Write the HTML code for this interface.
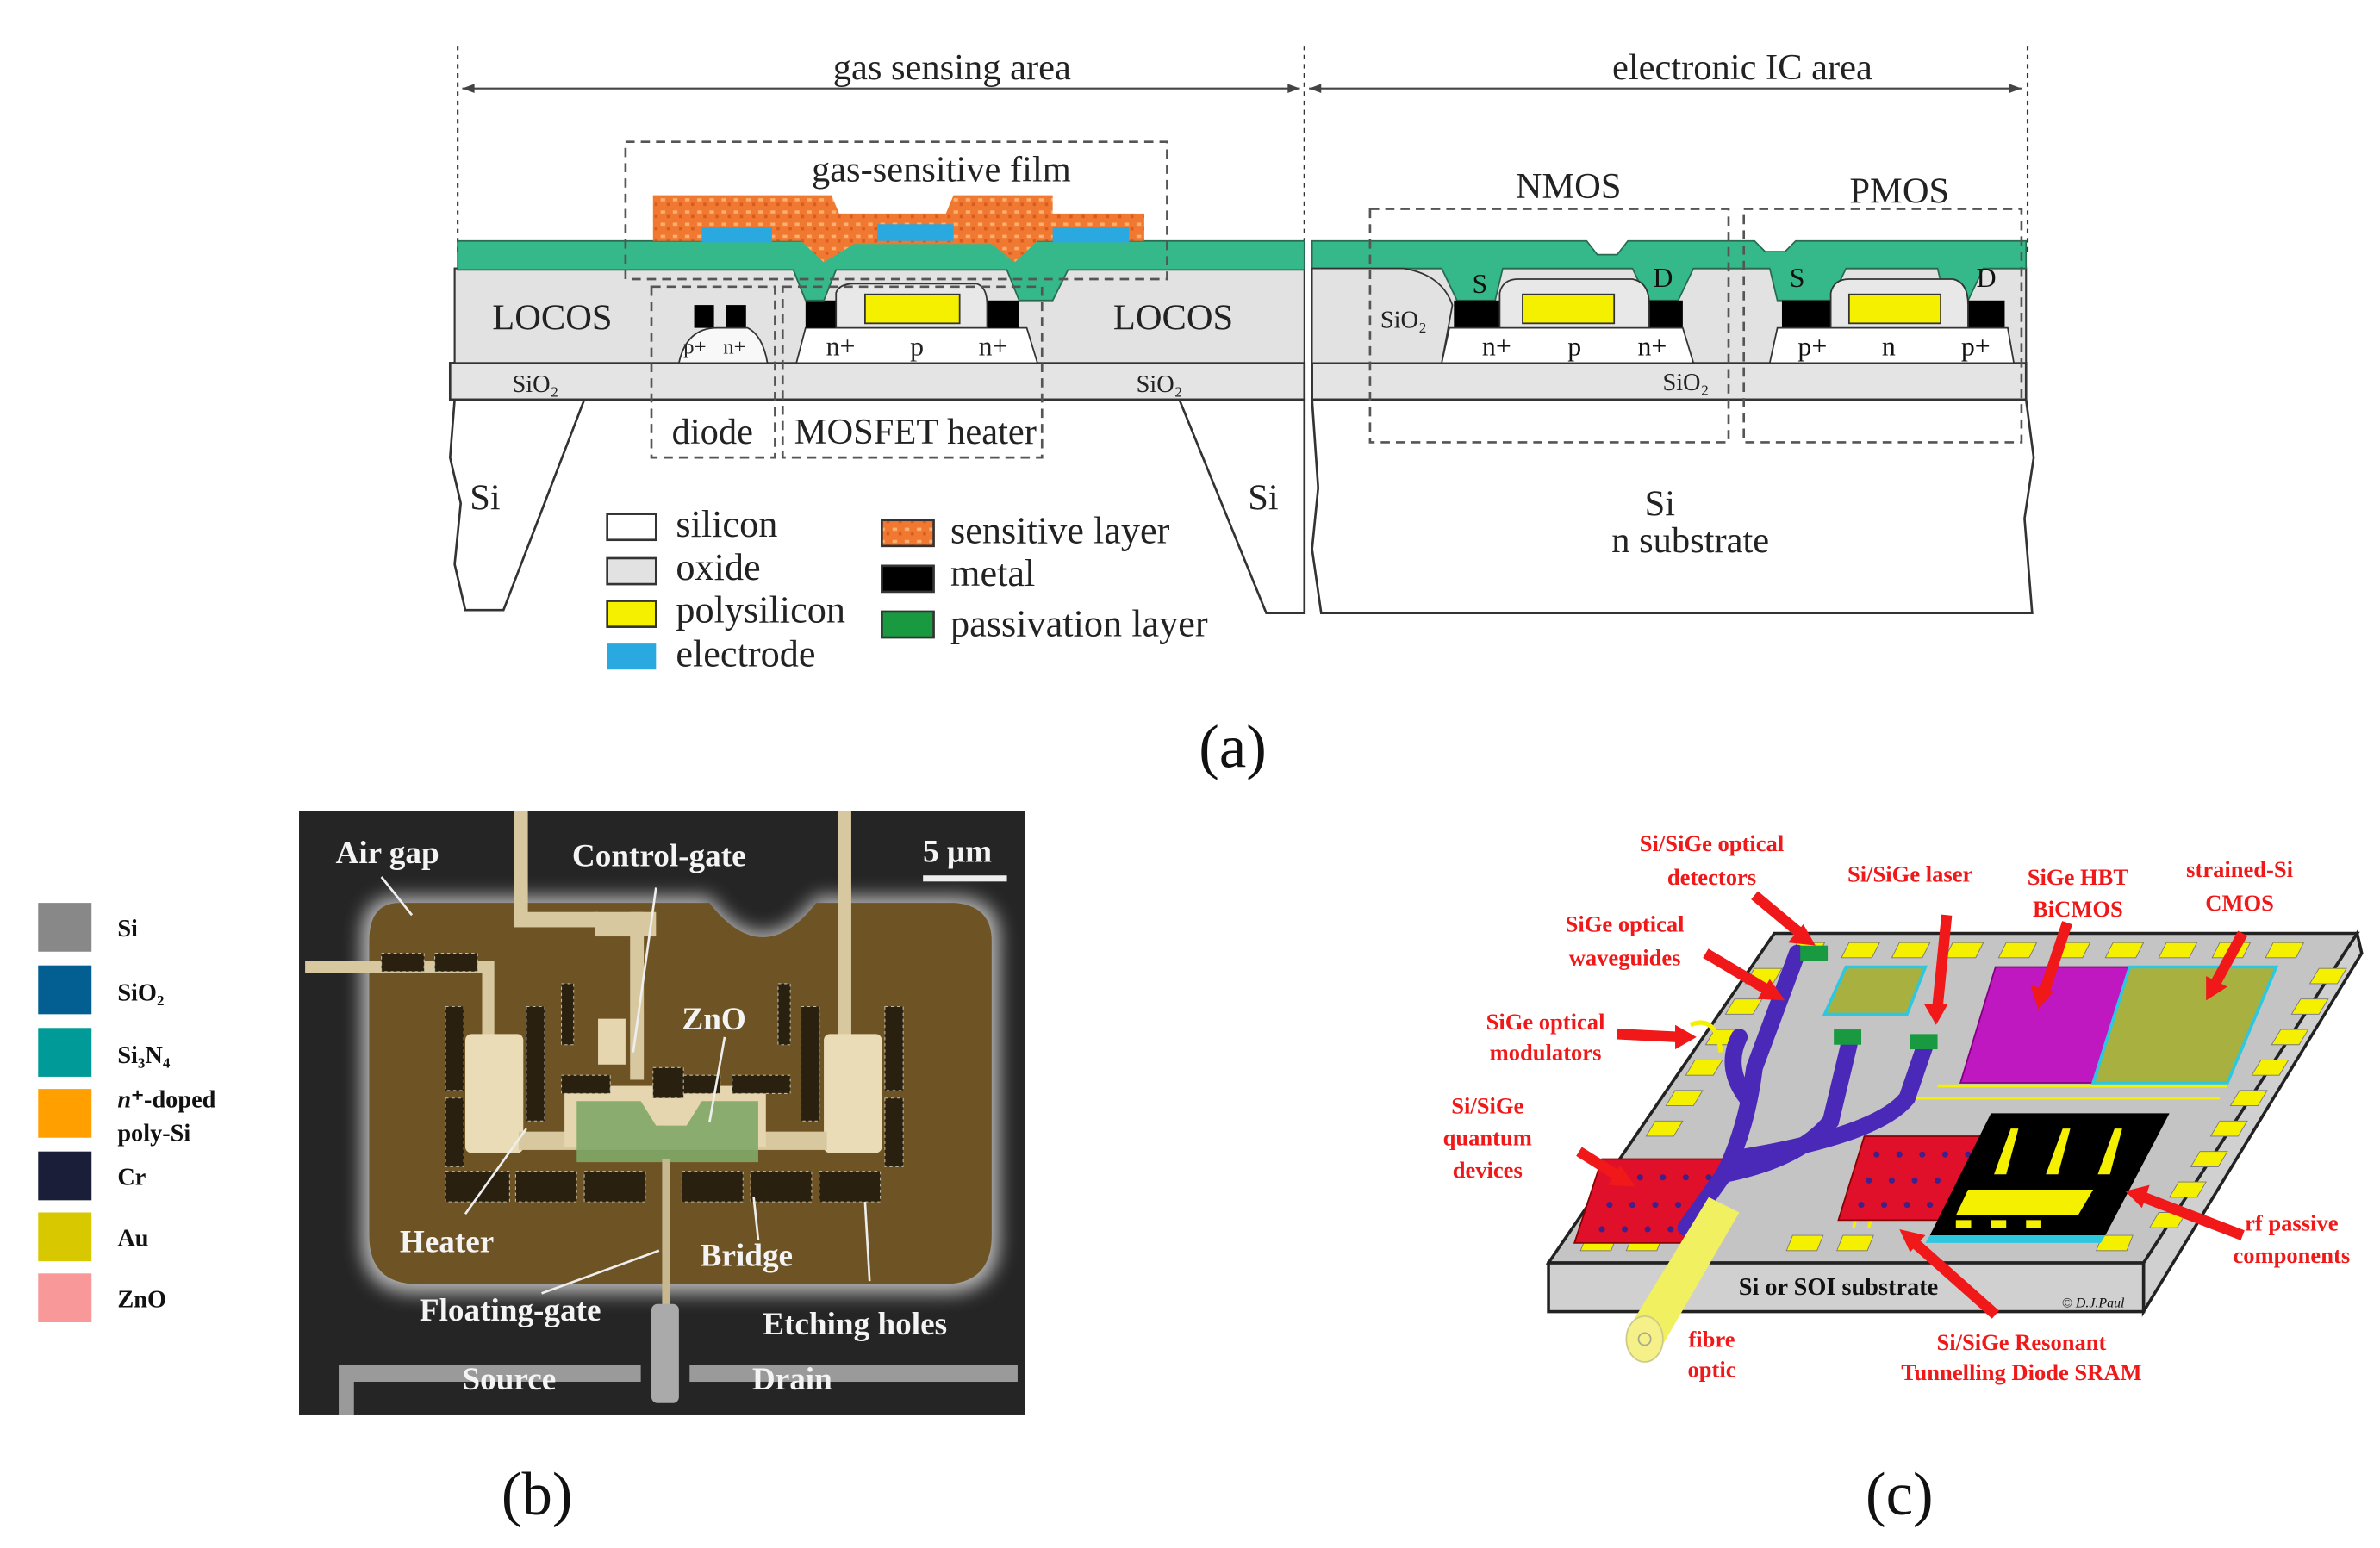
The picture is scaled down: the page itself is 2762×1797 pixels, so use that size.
<!DOCTYPE html>
<html><head><meta charset="utf-8"><style>
html,body{margin:0;padding:0;background:#fff;}
svg{display:block;}
text{font-family:"Liberation Serif",serif;}
</style></head><body>
<svg width="2762" height="1797" viewBox="0 0 1560 1015" preserveAspectRatio="none" xmlns="http://www.w3.org/2000/svg">
<defs>
<pattern id="sens" width="8" height="8" patternUnits="userSpaceOnUse">
<rect width="8" height="8" fill="#f07830"/><rect x="1" y="2" width="3" height="2" fill="#fbb070"/><rect x="5" y="5" width="2" height="2" fill="#d85a20"/>
</pattern>
<filter id="glow" x="-20%" y="-20%" width="140%" height="140%"><feGaussianBlur stdDeviation="6"/></filter>
</defs>
<rect width="1560" height="1015" fill="#fff"/>

<!-- ===== Panel (a) ===== -->
<g stroke="#333" stroke-width="1.2" stroke-dasharray="3,3" fill="none">
<line x1="300" y1="30" x2="300" y2="165"/><line x1="855" y1="30" x2="855" y2="165"/><line x1="1329" y1="30" x2="1329" y2="165"/>
</g>
<g stroke="#444" stroke-width="1.2">
<line x1="303" y1="58" x2="852" y2="58"/><line x1="858" y1="58" x2="1325" y2="58"/>
</g>
<g fill="#444"><path d="M303,58 l8,-3 v6z"/><path d="M852,58 l-8,-3 v6z"/><path d="M858,58 l8,-3 v6z"/><path d="M1325,58 l-8,-3 v6z"/></g>
<g font-size="24" fill="#222" text-anchor="middle">
<text x="624" y="52">gas sensing area</text>
<text x="1142" y="52">electronic IC area</text>
</g>

<!-- substrate left -->
<path d="M298,262 L383,262 L330,400 L305,400 L298,370 L302,330 L295,300 Z" fill="#fff" stroke="#333" stroke-width="1.5"/>
<path d="M773,262 L855,262 L855,402 L830,402 Z" fill="#fff" stroke="#333" stroke-width="1.5"/>
<path d="M860,262 L1328,262 L1333,300 L1327,340 L1332,402 L866,402 L860,360 L864,320 Z" fill="#fff" stroke="#333" stroke-width="1.5"/>
<!-- SiO2 band -->
<rect x="295" y="238" width="560" height="24" fill="#e4e4e4" stroke="#333" stroke-width="1.5"/>
<rect x="860" y="238" width="468" height="24" fill="#e4e4e4" stroke="#333" stroke-width="1.5"/>
<!-- oxide -->
<rect x="298" y="176" width="557" height="62" fill="#e2e2e2" stroke="#333" stroke-width="1.2"/>
<rect x="860" y="176" width="468" height="62" fill="#e2e2e2" stroke="#333" stroke-width="1.2"/>
<!-- MOSFET heater silicon -->
<path d="M528,215 L673,215 L680,238 L522,238 Z" fill="#fff" stroke="#333"/>
<rect x="528" y="197" width="20" height="18" fill="#000"/><rect x="647" y="197" width="21" height="18" fill="#000"/>
<path d="M548,215 L548,192 Q550,186 560,186 L640,186 Q647,188 647,200 L647,215Z" fill="#e8e8e8" stroke="#333"/>
<rect x="567" y="193" width="62" height="19" fill="#f5f000" stroke="#333"/>
<!-- green passivation left -->
<path d="M300,158 L855,158 L855,177 L700,177 L690,197 L668,197 L660,177 L640,177 L548,177 L540,197 L528,197 L520,177 L300,177Z" fill="#35b88a" stroke="#2a6a50"/>
<!-- sensitive layer -->
<path d="M428,128 L545,128 L550,140 L620,140 L625,128 L690,128 L690,140 L750,140 L750,158 L680,158 L665,172 L650,160 L560,160 L540,172 L525,158 L428,158Z" fill="url(#sens)"/>
<rect x="460" y="149" width="46" height="10" fill="#2aa8e0"/><rect x="575" y="147" width="50" height="11" fill="#2aa8e0"/><rect x="690" y="149" width="50" height="10" fill="#2aa8e0"/>
<!-- diode -->
<rect x="455" y="200" width="13" height="15" fill="#000"/><rect x="476" y="200" width="13" height="15" fill="#000"/>
<path d="M445,238 Q450,215 470,215 L490,215 Q500,220 503,238 Z" fill="#f8f8f8" stroke="#333"/>
<g font-size="14" fill="#222"><text x="448" y="232">p+</text><text x="474" y="232">n+</text></g>
<g font-size="18" fill="#222" text-anchor="middle"><text x="551" y="233">n+</text><text x="601" y="233">p</text><text x="651" y="233">n+</text></g>
<!-- dashed boxes -->
<g fill="none" stroke="#555" stroke-width="1.5" stroke-dasharray="6,4">
<rect x="410" y="93" width="355" height="90"/>
<rect x="427" y="188" width="81" height="112"/>
<rect x="513" y="188" width="170" height="112"/>
</g>
<g font-size="24" fill="#222" text-anchor="middle">
<text x="617" y="119">gas-sensitive film</text>
<text x="362" y="216">LOCOS</text><text x="769" y="216">LOCOS</text>
<text x="467" y="291">diode</text><text x="600" y="291">MOSFET heater</text>
<text x="318" y="334">Si</text><text x="828" y="334">Si</text>
</g>
<g font-size="16" fill="#222" text-anchor="middle"><text x="351" y="257">SiO₂</text><text x="760" y="257">SiO₂</text></g>

<!-- right IC -->
<path d="M860,158 L1040,158 L1047,167 L1060,167 L1067,158 L1150,158 L1157,165 L1170,165 L1177,158 L1328,158 L1328,176 L1300,176 L1290,197 L1275,197 L1270,176 L1210,176 L1200,197 L1165,197 L1160,176 L1110,176 L1100,197 L1080,197 L1070,176 L985,176 L980,197 L955,197 L945,176 L860,176Z" fill="#35b88a" stroke="#2a6a50"/>
<path d="M860,176 L920,176 Q945,180 952,200 L945,238 L860,238Z" fill="#e2e2e2" stroke="#333"/>
<rect x="953" y="197" width="30" height="18" fill="#000"/><rect x="1081" y="197" width="22" height="18" fill="#000"/>
<rect x="1168" y="197" width="32" height="18" fill="#000"/><rect x="1290" y="197" width="24" height="18" fill="#000"/>
<path d="M950,215 L1103,215 L1110,238 L945,238Z" fill="#fff" stroke="#333"/>
<path d="M1165,215 L1316,215 L1320,238 L1160,238Z" fill="#fff" stroke="#333"/>
<path d="M983,215 L983,192 Q985,183 995,183 L1070,183 Q1081,185 1081,200 L1081,215Z" fill="#e8e8e8" stroke="#333"/>
<path d="M1200,215 L1200,192 Q1202,183 1212,183 L1280,183 Q1290,185 1290,200 L1290,215Z" fill="#e8e8e8" stroke="#333"/>
<rect x="998" y="193" width="60" height="19" fill="#f5f000" stroke="#333"/>
<rect x="1212" y="193" width="60" height="19" fill="#f5f000" stroke="#333"/>
<g fill="none" stroke="#555" stroke-width="1.5" stroke-dasharray="6,4">
<rect x="898" y="137" width="235" height="153"/><rect x="1143" y="137" width="182" height="153"/>
</g>
<g font-size="24" fill="#222" text-anchor="middle">
<text x="1028" y="130">NMOS</text><text x="1245" y="133">PMOS</text>
<text x="1088" y="338">Si</text><text x="1108" y="362">n substrate</text>
</g>
<g font-size="18" fill="#111" text-anchor="middle">
<text x="970" y="192">S</text><text x="1090" y="188">D</text><text x="1178" y="188">S</text><text x="1302" y="188">D</text>
<text x="981" y="233">n+</text><text x="1032" y="233">p</text><text x="1083" y="233">n+</text>
<text x="1188" y="233">p+</text><text x="1238" y="233">n</text><text x="1295" y="233">p+</text>
</g>
<g font-size="16" fill="#222" text-anchor="middle"><text x="920" y="215">SiO₂</text><text x="1105" y="256">SiO₂</text></g>

<!-- legend a -->
<g stroke="#333" stroke-width="1.5">
<rect x="398" y="337" width="32" height="17" fill="#fff"/>
<rect x="398" y="366" width="32" height="17" fill="#e2e2e2"/>
<rect x="398" y="394" width="32" height="17" fill="#f5f000"/>
<rect x="398" y="422" width="32" height="17" fill="#2aa8e0" stroke="none"/>
<rect x="578" y="341" width="34" height="17" fill="url(#sens)"/>
<rect x="578" y="371" width="34" height="17" fill="#000"/>
<rect x="578" y="401" width="34" height="17" fill="#1a9a40"/>
</g>
<g font-size="25" fill="#222">
<text x="443" y="352">silicon</text><text x="443" y="380">oxide</text><text x="443" y="408">polysilicon</text><text x="443" y="437">electrode</text>
<text x="623" y="356">sensitive layer</text><text x="623" y="384">metal</text><text x="623" y="417">passivation layer</text>
</g>
<text x="808" y="503" font-size="40" text-anchor="middle" fill="#111">(a)</text>

<!-- ===== Panel (b) ===== -->
<g>
<rect x="25" y="592" width="35" height="32" fill="#888"/><rect x="25" y="633" width="35" height="32" fill="#035e92"/>
<rect x="25" y="674" width="35" height="32" fill="#009b98"/><rect x="25" y="714" width="35" height="32" fill="#ffa000"/>
<rect x="25" y="755" width="35" height="32" fill="#1a1e38"/><rect x="25" y="795" width="35" height="32" fill="#d8c800"/>
<rect x="25" y="835" width="35" height="32" fill="#f89898"/>
</g>
<g font-size="16" font-weight="bold" fill="#111">
<text x="77" y="614">Si</text><text x="77" y="656">SiO₂</text><text x="77" y="697">Si₃N₄</text>
<text x="77" y="726"><tspan font-style="italic">n</tspan>⁺-doped</text><text x="77" y="748">poly-Si</text>
<text x="77" y="777">Cr</text><text x="77" y="817">Au</text><text x="77" y="857">ZnO</text>
</g>
<rect x="196" y="532" width="476" height="396" fill="#252525"/>
<path d="M260,588 L465,588 Q500,635 535,588 L628,588 Q655,590 655,615 L655,812 Q655,848 620,848 L272,848 Q237,848 237,812 L237,615 Q237,588 260,588Z" fill="#ddd" filter="url(#glow)" opacity="0.8"/>
<path d="M262,592 L465,592 Q500,637 535,592 L626,592 Q650,594 650,617 L650,810 Q650,842 618,842 L274,842 Q242,842 242,810 L242,617 Q242,592 262,592Z" fill="#6e5424"/>
<!-- tracks -->
<g fill="#d8c8a0">
<rect x="337" y="532" width="9" height="70"/><rect x="337" y="598" width="55" height="10"/>
<rect x="390" y="598" width="40" height="16"/><rect x="413" y="598" width="9" height="110"/>
<rect x="549" y="532" width="9" height="150"/>
<rect x="200" y="630" width="120" height="8"/><rect x="316" y="630" width="8" height="50"/>
<rect x="305" y="678" width="38" height="78" rx="4" fill="#ebdcb8"/>
<rect x="540" y="678" width="38" height="78" rx="4" fill="#ebdcb8"/>
<rect x="340" y="742" width="202" height="12"/>
<rect x="370" y="712" width="132" height="40" fill="#e6d6b0"/>
<rect x="392" y="668" width="18" height="30" fill="#e6d6b0"/>
</g>
<path d="M378,722 L420,722 L430,738 L450,738 L460,722 L497,722 L497,762 L378,762Z" fill="#7fa868" opacity="0.9"/>
<rect x="434" y="760" width="5" height="120" fill="#c8b890"/>
<rect x="427" y="855" width="18" height="65" rx="4" fill="#aaa"/>
<!-- etching holes -->
<g fill="#2a2010" stroke="#bba" stroke-width="0.6" stroke-dasharray="2,2">
<rect x="292" y="768" width="42" height="20"/><rect x="338" y="768" width="40" height="20"/><rect x="383" y="768" width="40" height="20"/>
<rect x="447" y="768" width="40" height="20"/><rect x="492" y="768" width="40" height="20"/><rect x="537" y="768" width="40" height="20"/>
<rect x="292" y="720" width="12" height="45"/><rect x="580" y="720" width="12" height="45"/>
<rect x="292" y="660" width="12" height="55"/><rect x="580" y="660" width="12" height="55"/>
<rect x="345" y="660" width="12" height="75"/><rect x="525" y="660" width="12" height="75"/>
<rect x="368" y="705" width="32" height="12"/><rect x="440" y="705" width="32" height="12"/><rect x="480" y="705" width="38" height="12"/>
<rect x="368" y="645" width="8" height="40"/><rect x="510" y="645" width="8" height="40"/>
<rect x="250" y="625" width="28" height="12"/><rect x="285" y="625" width="28" height="12"/>
<rect x="428" y="700" width="20" height="20"/>
</g>
<!-- source/drain -->
<path d="M222,928 L222,895 L420,895 L420,906 L232,906 L232,928Z" fill="#9a9a9a"/>
<rect x="452" y="895" width="215" height="11" fill="#9a9a9a"/>
<rect x="605" y="574" width="55" height="4" fill="#eee"/>
<g stroke="#eee" stroke-width="1.5">
<line x1="250" y1="575" x2="270" y2="600"/><line x1="430" y1="582" x2="415" y2="690"/>
<line x1="475" y1="680" x2="465" y2="736"/><line x1="305" y1="796" x2="345" y2="740"/>
<line x1="355" y1="848" x2="432" y2="820"/><line x1="497" y1="813" x2="494" y2="785"/>
<line x1="570" y1="840" x2="567" y2="788"/>
</g>
<g font-size="21" font-weight="bold" fill="#f4f4f4">
<text x="220" y="566">Air gap</text><text x="375" y="568">Control-gate</text><text x="605" y="565">5 μm</text>
<text x="447" y="675">ZnO</text><text x="262" y="821">Heater</text><text x="459" y="830">Bridge</text>
<text x="275" y="866">Floating-gate</text><text x="500" y="875">Etching holes</text>
<text x="303" y="911">Source</text><text x="493" y="911">Drain</text>
</g>
<text x="352" y="993" font-size="40" text-anchor="middle" fill="#111">(b)</text>

<!-- ===== Panel (c) ===== -->
<path d="M1405,828 L1545,612 L1548,625 L1405,860Z" fill="#d0d0d0" stroke="#222" stroke-width="2"/>
<rect x="1015" y="828" width="390" height="32" fill="#d0d0d0" stroke="#222" stroke-width="2"/>
<path d="M1163,612 L1545,612 L1405,828 L1015,828Z" fill="#c4c4c4" stroke="#222" stroke-width="2"/>
<!-- pads -->
<g fill="#f5f000" stroke="#777" stroke-width="0.5">
<path d="M1178,618 h18 l-5,10 h-18z"/><path d="M1212,618 h20 l-5,10 h-20z"/><path d="M1245,618 h20 l-5,10 h-20z"/><path d="M1280,618 h20 l-5,10 h-20z"/><path d="M1315,618 h20 l-5,10 h-20z"/><path d="M1350,618 h20 l-5,10 h-20z"/><path d="M1385,618 h20 l-5,10 h-20z"/><path d="M1420,618 h20 l-5,10 h-20z"/><path d="M1455,618 h20 l-5,10 h-20z"/><path d="M1490,618 h20 l-5,10 h-20z"/>
<path d="M1520,635 h18 l-6,10 h-18z"/><path d="M1508,655 h18 l-6,10 h-18z"/><path d="M1495,675 h18 l-6,10 h-18z"/><path d="M1482,695 h18 l-6,10 h-18z"/><path d="M1468,715 h18 l-6,10 h-18z"/><path d="M1455,735 h18 l-6,10 h-18z"/><path d="M1442,755 h18 l-6,10 h-18z"/><path d="M1428,775 h18 l-6,10 h-18z"/><path d="M1415,795 h18 l-6,10 h-18z"/>
<path d="M1150,635 h18 l-6,10 h-18z"/><path d="M1137,655 h18 l-6,10 h-18z"/><path d="M1124,675 h18 l-6,10 h-18z"/><path d="M1111,695 h18 l-6,10 h-18z"/><path d="M1098,715 h18 l-6,10 h-18z"/><path d="M1085,735 h18 l-6,10 h-18z"/>
<path d="M1040,810 h20 l-4,10 h-20z"/><path d="M1070,810 h20 l-4,10 h-20z"/><path d="M1175,810 h20 l-4,10 h-20z"/><path d="M1208,810 h20 l-4,10 h-20z"/><path d="M1378,810 h20 l-4,10 h-20z"/>
</g>
<g stroke="#f5f000" stroke-width="2"><line x1="1250" y1="720" x2="1455" y2="720"/><line x1="1270" y1="712" x2="1460" y2="712"/><line x1="1215" y1="805" x2="1228" y2="745"/><line x1="1225" y1="805" x2="1238" y2="745"/></g>
<!-- blocks -->
<path d="M1308,634 L1396,634 L1372,710 L1285,710Z" fill="#c018c0" stroke="#800080"/>
<path d="M1396,634 L1492,634 L1460,710 L1372,710Z" fill="#a8b040" stroke="#2cc8e0" stroke-width="2"/>
<path d="M1210,634 L1262,634 L1250,665 L1196,665Z" fill="#a8b040" stroke="#2cc8e0" stroke-width="2"/>
<path d="M1050,760 L1132,760 L1115,815 L1032,815Z" fill="#e0102a" stroke="#800"/>
<path d="M1222,745 L1300,745 L1285,800 L1205,800Z" fill="#e0102a" stroke="#800"/>
<g fill="#40208a"><circle cx="1060" cy="772" r="2"/><circle cx="1075" cy="772" r="2"/><circle cx="1090" cy="772" r="2"/><circle cx="1105" cy="772" r="2"/><circle cx="1120" cy="772" r="2"/><circle cx="1055" cy="790" r="2"/><circle cx="1070" cy="790" r="2"/><circle cx="1085" cy="790" r="2"/><circle cx="1100" cy="790" r="2"/><circle cx="1115" cy="790" r="2"/><circle cx="1050" cy="806" r="2"/><circle cx="1065" cy="806" r="2"/><circle cx="1080" cy="806" r="2"/><circle cx="1095" cy="806" r="2"/><circle cx="1108" cy="806" r="2"/>
<circle cx="1230" cy="757" r="2"/><circle cx="1245" cy="757" r="2"/><circle cx="1260" cy="757" r="2"/><circle cx="1275" cy="757" r="2"/><circle cx="1290" cy="757" r="2"/><circle cx="1225" cy="774" r="2"/><circle cx="1240" cy="774" r="2"/><circle cx="1255" cy="774" r="2"/><circle cx="1270" cy="774" r="2"/><circle cx="1285" cy="774" r="2"/><circle cx="1220" cy="790" r="2"/><circle cx="1235" cy="790" r="2"/><circle cx="1250" cy="790" r="2"/><circle cx="1265" cy="790" r="2"/><circle cx="1278" cy="790" r="2"/></g>
<path d="M1305,730 L1422,730 L1380,810 L1265,810Z" fill="#000"/>
<path d="M1265,810 L1380,810 L1377,815 L1262,815Z" fill="#2cc8e0"/>
<g fill="#f5f000"><path d="M1290,780 L1372,780 L1362,797 L1282,797Z"/><path d="M1318,740 l5,0 l-8,30 l-8,0z"/><path d="M1352,740 l5,0 l-8,30 l-8,0z"/><path d="M1386,740 l5,0 l-8,30 l-8,0z"/>
<rect x="1282" y="800" width="10" height="5"/><rect x="1305" y="800" width="10" height="5"/><rect x="1328" y="800" width="10" height="5"/></g>
<!-- waveguide -->
<g fill="none" stroke="#4a28b8" stroke-width="11" stroke-linecap="round">
<path d="M1105,805 L1130,770 Q1145,740 1150,700 L1178,625"/>
<path d="M1130,770 Q1180,760 1200,735 L1212,685"/>
<path d="M1135,760 Q1230,745 1250,720 L1262,685"/>
<path d="M1145,720 Q1130,700 1140,680"/>
</g>
<path d="M1108,672 Q1125,665 1128,690" stroke="#f5f000" stroke-width="3" fill="none"/>
<g fill="#1a9a40"><rect x="1180" y="620" width="18" height="10"/><rect x="1202" y="675" width="18" height="10"/><rect x="1252" y="678" width="18" height="10"/></g>
<!-- fibre -->
<path d="M1068,870 L1120,785 L1140,795 L1088,885Z" fill="#f0f060"/>
<ellipse cx="1078" cy="878" rx="12" ry="15" fill="#f5f088" stroke="#cc8" />
<circle cx="1078" cy="878" r="4" fill="none" stroke="#aa8"/>
<!-- arrows -->
<g stroke="#f01818" stroke-width="7" fill="none">
<line x1="1150" y1="587" x2="1180" y2="612"/><line x1="1118" y1="625" x2="1160" y2="650"/>
<line x1="1060" y1="678" x2="1102" y2="680"/><line x1="1035" y1="755" x2="1062" y2="772"/>
<line x1="1276" y1="600" x2="1270" y2="660"/><line x1="1355" y1="605" x2="1340" y2="650"/>
<line x1="1470" y1="612" x2="1452" y2="645"/><line x1="1470" y1="810" x2="1405" y2="785"/>
<line x1="1308" y1="862" x2="1255" y2="815"/>
</g>
<g fill="#f01818">
<path d="M1190,620 l-18,-2 l10,-12z"/><path d="M1170,656 l-18,-1 l8,-13z"/><path d="M1112,680 l-14,-8 v16z"/>
<path d="M1072,778 l-18,-1 l8,-13z"/><path d="M1269,672 l-8,-14 h16z"/><path d="M1336,662 l-5,-16 l15,4z"/>
<path d="M1446,656 l0,-16 l14,7z"/><path d="M1393,781 l16,-4 l-5,15z"/><path d="M1245,806 l17,4 l-10,11z"/>
</g>
<g font-size="15" font-weight="bold" fill="#f01818" text-anchor="middle">
<text x="1122" y="558">Si/SiGe optical</text><text x="1122" y="580">detectors</text>
<text x="1252" y="578">Si/SiGe laser</text>
<text x="1362" y="580">SiGe HBT</text><text x="1362" y="601">BiCMOS</text>
<text x="1468" y="575">strained-Si</text><text x="1468" y="597">CMOS</text>
<text x="1065" y="611">SiGe optical</text><text x="1065" y="633">waveguides</text>
<text x="1013" y="675">SiGe optical</text><text x="1013" y="695">modulators</text>
<text x="975" y="730">Si/SiGe</text><text x="975" y="751">quantum</text><text x="975" y="772">devices</text>
<text x="1502" y="807">rf passive</text><text x="1502" y="828">components</text>
<text x="1325" y="885">Si/SiGe Resonant</text><text x="1325" y="905">Tunnelling Diode SRAM</text>
<text x="1122" y="883">fibre</text><text x="1122" y="903">optic</text>
</g>
<text x="1205" y="849" font-size="16" font-weight="bold" fill="#111" text-anchor="middle">Si or SOI substrate</text>
<text x="1372" y="857" font-size="9" font-style="italic" fill="#111" text-anchor="middle">© D.J.Paul</text>
<text x="1245" y="993" font-size="40" text-anchor="middle" fill="#111">(c)</text>
</svg>
</body></html>
